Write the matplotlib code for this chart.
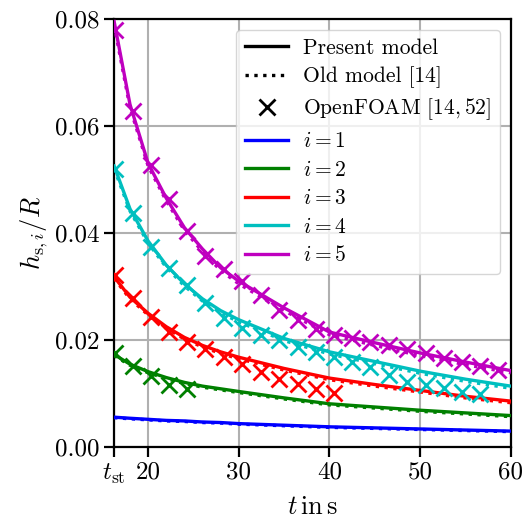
import matplotlib
matplotlib.use("Agg")
import matplotlib.pyplot as plt
from matplotlib.lines import Line2D
import numpy as np

plt.rcParams['font.family'] = 'serif'
plt.rcParams['font.serif'] = ['cmr10']
plt.rcParams['mathtext.fontset'] = 'cm'
plt.rcParams['axes.formatter.use_mathtext'] = True
plt.rcParams['font.size'] = 18

t_st = 16.25

# model curves
t_model = [16.25, 18, 20, 22, 24, 26, 28, 30, 35, 40, 45, 50, 55, 60]
present = {
    1: [0.0056, 0.0054, 0.0052, 0.0050, 0.0049, 0.0047, 0.0046, 0.0044, 0.0041, 0.0038, 0.0036, 0.0034, 0.0032, 0.0030],
    2: [0.0173, 0.0155, 0.0141, 0.0130, 0.0121, 0.0114, 0.0109, 0.0104, 0.0092, 0.0081, 0.0075, 0.0069, 0.0064, 0.0059],
    3: [0.0318, 0.0280, 0.0250, 0.0225, 0.0205, 0.0190, 0.0178, 0.0168, 0.0147, 0.0129, 0.0117, 0.0106, 0.0095, 0.0086],
    4: [0.0525, 0.0445, 0.0385, 0.0340, 0.0305, 0.0277, 0.0255, 0.0238, 0.0203, 0.0178, 0.0160, 0.0142, 0.0127, 0.0114],
    5: [0.0795, 0.0640, 0.0530, 0.0465, 0.0410, 0.0370, 0.0335, 0.0310, 0.0260, 0.0215, 0.0195, 0.0176, 0.0159, 0.0143],
}
old = {
    1: [0.0055, 0.0053, 0.0051, 0.0049, 0.0048, 0.0046, 0.0045, 0.0043, 0.0040, 0.0037, 0.0035, 0.0033, 0.0031, 0.0029],
    2: [0.0171, 0.0153, 0.0139, 0.0128, 0.0119, 0.0112, 0.0107, 0.0102, 0.0090, 0.0079, 0.0073, 0.0067, 0.0062, 0.0057],
    3: [0.0315, 0.0277, 0.0247, 0.0222, 0.0202, 0.0187, 0.0175, 0.0165, 0.0144, 0.0126, 0.0114, 0.0103, 0.0092, 0.0083],
    4: [0.0520, 0.0441, 0.0381, 0.0336, 0.0301, 0.0273, 0.0251, 0.0234, 0.0199, 0.0174, 0.0156, 0.0138, 0.0123, 0.0110],
    5: [0.0788, 0.0634, 0.0525, 0.0460, 0.0405, 0.0365, 0.0330, 0.0305, 0.0255, 0.0210, 0.0190, 0.0171, 0.0154, 0.0139],
}

# OpenFOAM samples
t_of = [16.3, 18.3, 20.3, 22.3, 24.3, 26.3, 28.4, 30.4, 32.4, 34.4, 36.5,
        38.5, 40.5, 42.5, 44.5, 46.6, 48.6, 50.6, 52.6, 54.6, 56.6, 58.6]
openfoam = {
    2: [0.0175, 0.0152, 0.0132, 0.0117, 0.0108],
    3: [0.0321, 0.0278, 0.0244, 0.0216, 0.0197, 0.0184, 0.0169, 0.0156, 0.0140,
        0.0127, 0.0118, 0.0109, 0.0102],
    4: [0.0520, 0.0437, 0.0374, 0.0334, 0.0302, 0.0269, 0.0241, 0.0222, 0.0209,
        0.0200, 0.0188, 0.0178, 0.0169, 0.0159, 0.0150, 0.0135, 0.0122, 0.0116,
        0.0110, 0.0103, 0.0100],
    5: [0.0779, 0.0627, 0.0527, 0.0463, 0.0404, 0.0357, 0.0333, 0.0310, 0.0284,
        0.0257, 0.0237, 0.0220, 0.0210, 0.0203, 0.0197, 0.0190, 0.0183, 0.0175,
        0.0166, 0.0159, 0.0151, 0.0144],
}
colors = {1: 'b', 2: 'g', 3: 'r', 4: 'c', 5: 'm'}

fig = plt.figure(figsize=(5.26, 5.23), dpi=100)
ax = fig.add_subplot(111)
fig.subplots_adjust(left=0.217, right=0.971, top=0.964, bottom=0.145)

for i in range(1, 6):
    c = colors[i]
    ax.plot(t_model, present[i], color=c, lw=2.4, zorder=3)
    ax.plot(t_model, old[i], color=c, lw=2.4, ls=':', zorder=3)
    if i in openfoam:
        v = openfoam[i]
        ax.plot(t_of[:len(v)], v, ls='none', marker='x', color=c,
                ms=12, mew=2, zorder=4)

ax.set_xlim(t_st, 60)
ax.set_ylim(0, 0.08)
ax.set_xticks([t_st, 20, 30, 40, 50, 60])
ax.set_xticklabels([r'$t_{\mathrm{st}}$', '20', '30', '40', '50', '60'])
ax.set_yticks([0, 0.02, 0.04, 0.06, 0.08])
ax.set_yticklabels(['0.00', '0.02', '0.04', '0.06', '0.08'])
ax.grid(True, color='#b0b0b0', lw=1.5)
ax.set_axisbelow(True)
for s in ax.spines.values():
    s.set_linewidth(1.6)
ax.tick_params(width=1.6, length=7)

ax.set_xlabel(r'$t\,\mathrm{in}\,\mathrm{s}$', fontsize=19, labelpad=7)
ax.set_ylabel(r'$h_{\mathrm{s},i}/R$', fontsize=19)

handles = [
    Line2D([], [], color='k', lw=2.4),
    Line2D([], [], color='k', lw=2.4, ls=':'),
    Line2D([], [], color='k', ls='none', marker='x', ms=12, mew=2),
]
labels = ['Present model', 'Old model [14]', r'OpenFOAM $[14, 52]$']
for i in range(1, 6):
    handles.append(Line2D([], [], color=colors[i], lw=2.4))
    labels.append(r'$i = %d$' % i)
ax.legend(handles, labels, loc='upper right', fontsize=15.5,
          labelspacing=0.4, handlelength=2.0, handletextpad=0.7)

plt.savefig('out.png', dpi=100)
